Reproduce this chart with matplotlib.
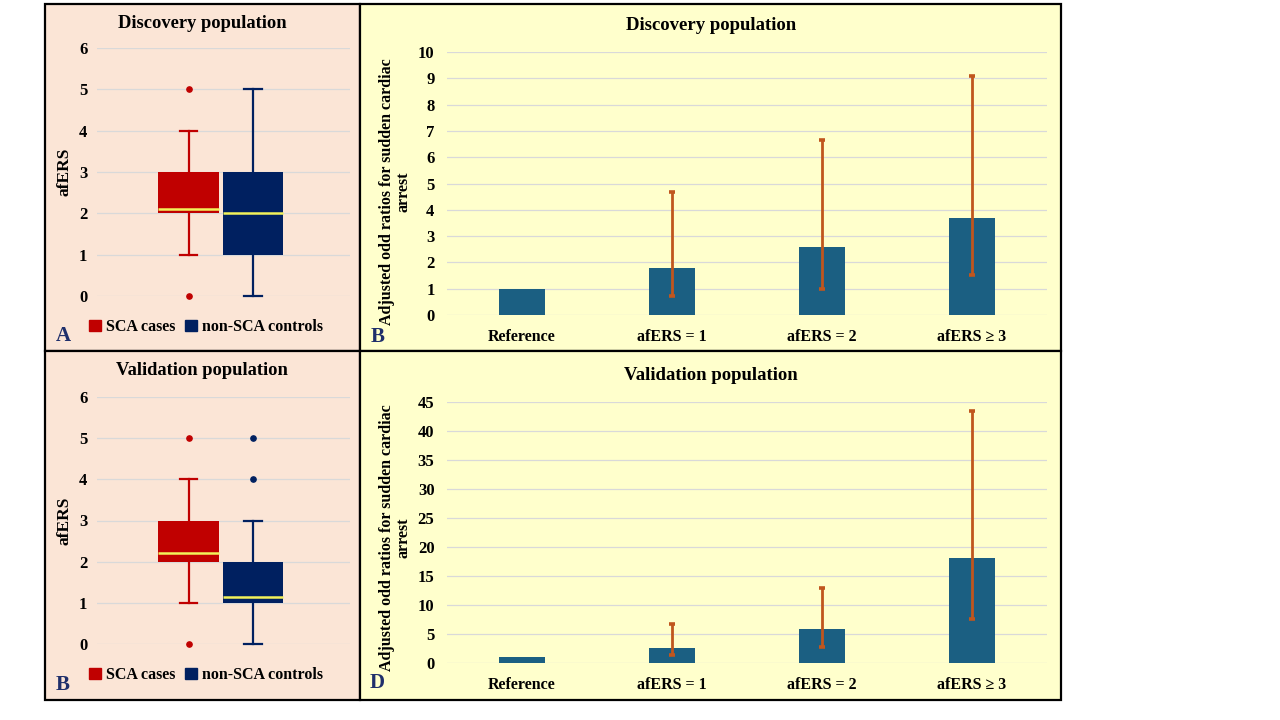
import matplotlib as mpl
import matplotlib.pyplot as plt
from matplotlib.patches import Rectangle, Patch

mpl.rcParams.update(
    {
        "font.family": ["Liberation Serif", "DejaVu Serif"],
        "font.weight": "bold",
        "axes.labelweight": "bold",
        "axes.titleweight": "bold",
    }
)

W, H = 1280, 720

# %% Data
# box-plot summaries of afERS (min whisker, q1, median, q3, max whisker, outliers)
groups = ["SCA cases", "non-SCA controls"]
disc_box = {
    "SCA cases": dict(whislo=1, q1=2, med=2.1, q3=3, whishi=4, fliers=[0, 5]),
    "non-SCA controls": dict(whislo=0, q1=1, med=2.0, q3=3, whishi=5, fliers=[]),
}
val_box = {
    "SCA cases": dict(whislo=1, q1=2, med=2.2, q3=3, whishi=4, fliers=[0, 5]),
    "non-SCA controls": dict(whislo=0, q1=1, med=1.15, q3=2, whishi=3, fliers=[4, 5]),
}

categories = ["Reference", "afERS = 1", "afERS = 2", "afERS \u2265 3"]
disc_or = [1.0, 1.8, 2.6, 3.7]
disc_lo = [1.0, 0.73, 1.0, 1.52]
disc_hi = [1.0, 4.69, 6.67, 9.08]
val_or = [1.0, 2.64, 5.92, 18.16]
val_lo = [1.0, 1.32, 2.82, 7.59]
val_hi = [1.0, 6.72, 12.93, 43.45]

# %% Styling
PEACH = "#FBE5D6"
CREAM = "#FFFFCC"
RED = "#C00000"
NAVY = "#002060"
MEDIAN = "#F2F25A"
BAR = "#1B5F82"
ERR = "#C0561E"
GRID = "#D9D9D9"
LETTER = "#1F2F6B"


def px(x0, y0, x1, y1):
    return [x0 / W, 1 - y1 / H, (x1 - x0) / W, (y1 - y0) / H]


fig = plt.figure(figsize=(W / 100, H / 100), dpi=100, facecolor="white")

# panel backgrounds with black frames (kept behind the axes)
for (x0, y0, x1, y1, c) in [
    (45, 4, 360, 351, PEACH),
    (360, 4, 1061, 351, CREAM),
    (45, 351, 360, 700, PEACH),
    (360, 351, 1061, 700, CREAM),
]:
    fig.patches.append(
        Rectangle((x0 / W, 1 - y1 / H), (x1 - x0) / W, (y1 - y0) / H,
                  transform=fig.transFigure, facecolor=c, edgecolor="black",
                  linewidth=1.6, zorder=-5)
    )


def style_axes(ax, pad):
    ax.set_facecolor("none")
    for s in ax.spines.values():
        s.set_visible(False)
    ax.yaxis.grid(True, color=GRID, linewidth=0.9)
    ax.set_axisbelow(True)
    ax.tick_params(length=0, pad=pad)


def box_panel(rect, title, stats, title_y, legend_y, letter, letter_y):
    ax = fig.add_axes(px(*rect))
    style_axes(ax, 7)
    ax.tick_params(axis="y", labelsize=12)
    positions = [0.362, 0.617]
    colors = [RED, NAVY]
    for g, pos, c in zip(groups, positions, colors):
        s = dict(stats[g])
        s["label"] = ""
        parts = ax.bxp(
            [s], positions=[pos], widths=0.24, capwidths=0.07,
            showfliers=True, patch_artist=True,
            boxprops=dict(facecolor=c, edgecolor=c, linewidth=0),
            whiskerprops=dict(color=c, linewidth=1.6),
            capprops=dict(color=c, linewidth=1.6),
            medianprops=dict(color=MEDIAN, linewidth=1.8),
            flierprops=dict(marker="o", markerfacecolor=c, markeredgecolor=c,
                            markersize=3.8),
        )
        for arts in parts.values():
            for a in arts:
                a.set_clip_on(False)
    ax.set_xlim(0, 1)
    ax.set_ylim(0, 6)
    ax.set_yticks(range(7))
    ax.set_xticks([])
    ax.set_ylabel("afERS", fontsize=12.5)
    ax.yaxis.set_label_coords(-0.095, 0.5)
    fig.text(202 / W, 1 - title_y / H, title, ha="center", va="center",
             fontsize=13.3, fontweight="bold")
    handles = [Patch(facecolor=c, edgecolor=c) for c in colors]
    fig.legend(handles, groups, loc="center",
               bbox_to_anchor=(206 / W, 1 - legend_y / H), ncol=2,
               frameon=False, fontsize=11.5, handlelength=0.75,
               handleheight=0.75, handletextpad=0.3, columnspacing=0.6)
    fig.text(63 / W, 1 - letter_y / H, letter, ha="center", va="center",
             fontsize=15, fontweight="bold", color=LETTER)


def bar_panel(rect, title, vals, lo, hi, ymax, ystep, title_y, label_y,
              letter, letter_xy):
    ax = fig.add_axes(px(*rect))
    style_axes(ax, 9)
    ax.tick_params(axis="y", labelsize=12)
    x = range(len(categories))
    yerr_lo = [v - l for v, l in zip(vals, lo)]
    yerr_hi = [h - v for v, h in zip(vals, hi)]
    ax.bar(x, vals, width=0.31, color=BAR, zorder=2)
    # reference category has no interval
    ax.errorbar(list(x)[1:], vals[1:], yerr=[yerr_lo[1:], yerr_hi[1:]],
                fmt="none", ecolor=ERR, elinewidth=2.0, capsize=2.4,
                capthick=2.6, zorder=3)
    ax.set_xlim(-0.5, len(categories) - 0.5)
    ax.set_ylim(0, ymax)
    ax.set_yticks(range(0, ymax + 1, ystep))
    ax.set_xticks(list(x))
    ax.set_xticklabels(categories, fontsize=11.5)
    ax.tick_params(axis="x", pad=10)
    ax.set_ylabel("Adjusted odd ratios for sudden cardiac\narrest",
                  fontsize=11.5, linespacing=1.0)
    ax.yaxis.set_label_coords(-0.06, label_y)
    fig.text(711 / W, 1 - title_y / H, title, ha="center", va="center",
             fontsize=13.5, fontweight="bold")
    fig.text(letter_xy[0] / W, 1 - letter_xy[1] / H, letter, ha="center",
             va="center", fontsize=15, fontweight="bold", color=LETTER)


box_panel((97, 48, 350, 296), "Discovery population", disc_box,
          23, 327, "A", 336)
box_panel((97, 397, 350, 644), "Validation population", val_box,
          371, 675, "B", 685)
bar_panel((447, 52, 1047, 315), "Discovery population", disc_or, disc_lo,
          disc_hi, 10, 1, 26, 0.47, "B", (378, 337))
bar_panel((447, 402, 1047, 663), "Validation population", val_or, val_lo,
          val_hi, 45, 5, 376, 0.48, "D", (377, 683))

fig.savefig("out.png", dpi=100, facecolor="white")
